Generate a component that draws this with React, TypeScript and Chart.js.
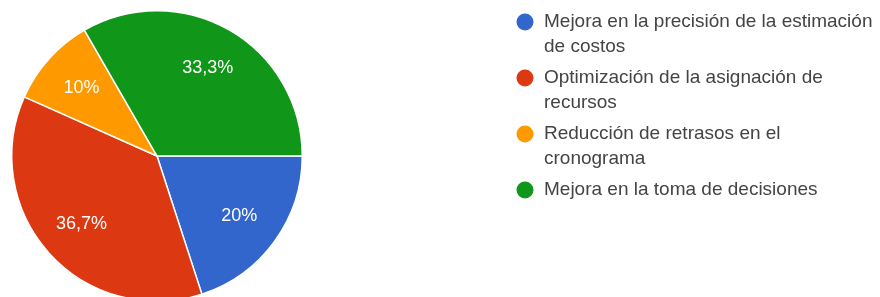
import React, { useEffect, useRef } from "react";
import { Chart, registerables } from "chart.js";

Chart.register(...registerables);

const categories: string[][] = [
  ["Mejora en la precisión de la estimación", "de costos"],
  ["Optimización de la asignación de", "recursos"],
  ["Reducción de retrasos en el", "cronograma"],
  ["Mejora en la toma de decisiones"],
];
const responses: number[] = [6, 11, 3, 10];
const colors: string[] = ["#3366cc", "#dc3912", "#ff9900", "#109618"];

const FONT = "'Liberation Sans', Arial, sans-serif";

const formatPct = (v: number, total: number) => {
  const p = (v / total) * 100;
  let s = p.toFixed(1);
  if (s.endsWith(".0")) s = s.slice(0, -2);
  return s.replace(".", ",") + "%";
};

const sliceLabels = {
  id: "sliceLabels",
  afterDatasetsDraw(chart: any) {
    const ctx = chart.ctx;
    const meta = chart.getDatasetMeta(0);
    const data: number[] = chart.data.datasets[0].data;
    const total = data.reduce((a, b) => a + b, 0);
    ctx.save();
    ctx.font = `18px ${FONT}`;
    ctx.fillStyle = "#ffffff";
    ctx.textAlign = "center";
    ctx.textBaseline = "middle";
    meta.data.forEach((arc: any, i: number) => {
      const { x, y, startAngle, endAngle, outerRadius } = arc.getProps(
        ["x", "y", "startAngle", "endAngle", "outerRadius"],
        true
      );
      const mid = (startAngle + endAngle) / 2;
      const r = outerRadius * 0.7;
      ctx.fillText(formatPct(data[i], total), x + Math.cos(mid) * r, y + Math.sin(mid) * r);
    });
    ctx.restore();
  },
};

const sideLegend = {
  id: "sideLegend",
  afterDraw(chart: any) {
    const ctx = chart.ctx;
    const labels: string[][] = chart.data.labels;
    const bg: string[] = chart.data.datasets[0].backgroundColor;
    const lineH = 25;
    const gap = 6;
    let y = 22;
    ctx.save();
    ctx.font = `19px ${FONT}`;
    ctx.textBaseline = "middle";
    ctx.textAlign = "left";
    labels.forEach((lines, i) => {
      ctx.beginPath();
      ctx.arc(525, y, 8.5, 0, Math.PI * 2);
      ctx.fillStyle = bg[i];
      ctx.fill();
      ctx.fillStyle = "#444444";
      lines.forEach((ln, k) => {
        ctx.fillText(ln, 544, y + k * lineH);
      });
      y += lines.length * lineH + gap;
    });
    ctx.restore();
  },
};

export default function App() {
  const ref = useRef<HTMLCanvasElement | null>(null);
  useEffect(() => {
    if (!ref.current) return;
    const chart = new Chart(ref.current, {
      type: "pie",
      data: {
        labels: categories as any,
        datasets: [
          {
            data: responses,
            backgroundColor: colors,
            borderColor: "#ffffff",
            borderWidth: 1.5,
          },
        ],
      },
      options: {
        responsive: false,
        animation: false,
        devicePixelRatio: 1,
        rotation: 90,
        layout: { padding: { left: 11, top: 10, right: 577, bottom: 8 } },
        plugins: {
          legend: { display: false },
          tooltip: { enabled: false },
        },
      },
      plugins: [sliceLabels, sideLegend],
    });
    return () => chart.destroy();
  }, []);
  return (
    <div
      style={{
        position: "fixed",
        left: 0,
        top: 0,
        width: 880,
        height: 297,
        overflow: "hidden",
        background: "#ffffff",
      }}
    >
      <canvas ref={ref} width={880} height={310} style={{ display: "block", width: 880, height: 310 }} />
    </div>
  );
}
